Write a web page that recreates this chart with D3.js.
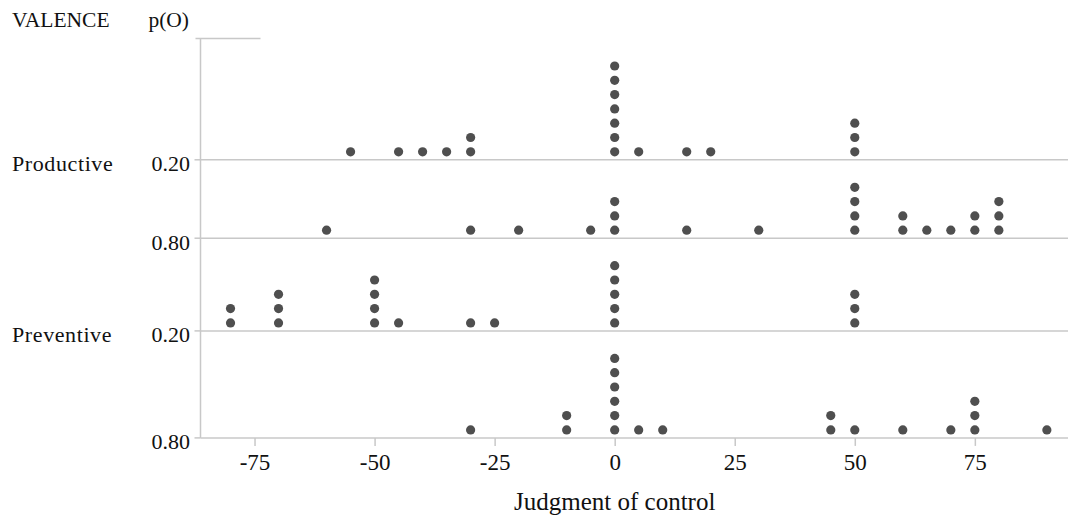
<!DOCTYPE html>
<html>
<head>
<meta charset="utf-8">
<script src="https://cdnjs.cloudflare.com/ajax/libs/d3/7.8.5/d3.min.js"></script>
<style>
  html, body { margin: 0; padding: 0; background: #fff; }
  svg { display: block; }
  svg text { font-family: "Liberation Serif", "Times New Roman", serif !important; fill: #111; }
</style>
</head>
<body>
<svg id="chart" width="1070" height="522"></svg>
<script>
// ---- Data (judgment of control values, one entry per participant) ----
const valenceLabels = ["Productive", "", "Preventive", ""];
const pLabels = ["0.20", "0.80", "0.20", "0.80"];
const productive020 = [-55, -45, -40, -35, -30, -30, 0, 0, 0, 0, 0, 0, 0, 5, 15, 20, 50, 50, 50];
const productive080 = [-60, -30, -20, -5, 0, 0, 0, 15, 30, 50, 50, 50, 50, 60, 60, 65, 70, 75, 75, 80, 80, 80];
const preventive020 = [-80, -80, -70, -70, -70, -50, -50, -50, -50, -45, -30, -25, 0, 0, 0, 0, 0, 50, 50, 50];
const preventive080 = [-30, -10, -10, 0, 0, 0, 0, 0, 0, 5, 10, 45, 45, 50, 60, 70, 75, 75, 75, 90];
const xTickValues = [-75, -50, -25, 0, 25, 50, 75];
const xDomain = [-86.25, 94.4];
const axisTitle = "Judgment of control";
const headerValence = "VALENCE";
const headerP = "p(O)";

const rows = [productive020, productive080, preventive020, preventive080];

// ---- Layout ----
const svg = d3.select("#chart");
const plotLeft = 200.5, plotRight = 1068, plotTop = 38.5;
const dotStep = 14.3, topPad = 27.5, bottomPad = 8, r = 4.6;
const gridColor = "#c8c8c8", dotColor = "#4f4f4f";
const serif = '"Liberation Serif", "Times New Roman", serif';

const x = d3.scaleLinear().domain(xDomain).range([plotLeft, plotRight]);

// stack positions
const stacked = rows.map(vals => {
  const counts = new Map();
  return vals.map(v => {
    const k = counts.get(v) || 0;
    counts.set(v, k + 1);
    return { v, k };
  });
});
const maxCounts = stacked.map(s => d3.max(s, d => d.k) + 1);
const rowBottoms = [];
let cur = plotTop;
maxCounts.forEach(m => {
  cur += (m - 1) * dotStep + topPad + bottomPad;
  rowBottoms.push(cur);
});
const plotBottom = rowBottoms[rowBottoms.length - 1];

// gridlines at row bottoms
svg.selectAll("line.grid").data(rowBottoms.slice(0, -1)).enter().append("line")
  .attr("x1", plotLeft).attr("x2", plotRight)
  .attr("y1", d => d).attr("y2", d => d)
  .attr("stroke", gridColor).attr("stroke-width", 1.5);

// top short line
svg.append("line").attr("x1", plotLeft - 5).attr("x2", plotLeft + 60)
  .attr("y1", plotTop).attr("y2", plotTop).attr("stroke", gridColor).attr("stroke-width", 1.5);

// left ticks
svg.selectAll("line.ltick").data(rowBottoms).enter().append("line")
  .attr("x1", plotLeft - 6).attr("x2", plotLeft)
  .attr("y1", d => d).attr("y2", d => d)
  .attr("stroke", gridColor).attr("stroke-width", 1.5);

// left axis
svg.append("line").attr("x1", plotLeft).attr("x2", plotLeft).attr("y1", plotTop).attr("y2", plotBottom)
  .attr("stroke", gridColor).attr("stroke-width", 1.5);

// bottom axis
const xAxis = d3.axisBottom(x).tickValues(xTickValues).tickSize(8).tickPadding(8)
  .tickFormat(d => d < 0 ? "-" + Math.abs(d) : String(d));
const gx = svg.append("g").attr("transform", `translate(0,${plotBottom})`).call(xAxis)
  .attr("font-family", serif).attr("font-size", 23);
gx.select(".domain").attr("stroke", gridColor).attr("stroke-width", 1.5)
  .attr("d", `M${plotLeft},0H${plotRight}`);
gx.selectAll(".tick line").attr("stroke", gridColor).attr("stroke-width", 1.5);
gx.selectAll(".tick text").style("font-family", serif).style("font-size", "23px").attr("fill", "#111");

// dots
stacked.forEach((s, i) => {
  const base = rowBottoms[i] - bottomPad;
  svg.append("g").selectAll("circle").data(s).enter().append("circle")
    .attr("cx", d => x(d.v))
    .attr("cy", d => base - d.k * dotStep)
    .attr("r", r)
    .attr("fill", dotColor);
});

// row labels
rowBottoms.forEach((yb, i) => {
  svg.append("text").attr("x", 190).attr("y", yb + 11.5)
    .attr("text-anchor", "end").style("font-size", "22px").text(pLabels[i]);
  if (valenceLabels[i]) {
    svg.append("text").attr("x", 12).attr("y", yb + 11.5)
      .style("font-size", "22px").attr("letter-spacing", 0.6).text(valenceLabels[i]);
  }
});

// headers
svg.append("text").attr("x", 12).attr("y", 26.5).style("font-size", "21.5px").text(headerValence);
svg.append("text").attr("x", 189).attr("y", 26.5).attr("text-anchor", "end").style("font-size", "21.5px").text(headerP);

// axis title
svg.append("text").attr("x", x(0)).attr("y", 510).attr("text-anchor", "middle")
  .style("font-size", "25px").text(axisTitle);
</script>
</body>
</html>
